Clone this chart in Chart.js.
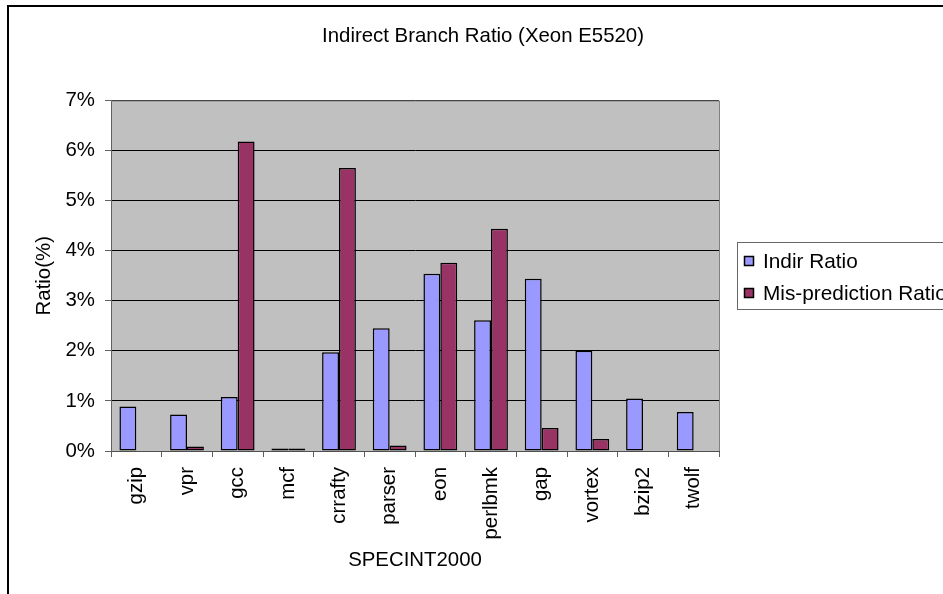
<!DOCTYPE html>
<html>
<head>
<meta charset="utf-8">
<script src="https://cdn.jsdelivr.net/npm/chart.js@4.4.1/dist/chart.umd.min.js"></script>
<style>
  html, body { margin: 0; padding: 0; background: #fff; }
  canvas { display: block; }
</style>
</head>
<body>
<canvas id="ratioChart" width="943" height="594"></canvas>
<script>
// Indirect branch ratio per SPECINT2000 benchmark (values in %)
const benchmarks = ['gzip', 'vpr', 'gcc', 'mcf', 'crrafty', 'parser', 'eon', 'perlbmk', 'gap', 'vortex', 'bzip2', 'twolf'];
const indirRatio = [0.89, 0.73, 1.08, 0.05, 1.97, 2.45, 3.54, 2.61, 3.44, 2.00, 1.05, 0.78];
const mispredRatio = [0, 0.09, 6.18, 0.05, 5.65, 0.11, 3.76, 4.44, 0.46, 0.24, 0, 0];
const yTicks = [0, 1, 2, 3, 4, 5, 6, 7];

const FONT = "'Liberation Sans', Arial, sans-serif";
const FS = 20.4;
Chart.defaults.font.family = FONT;
Chart.defaults.font.size = FS;
Chart.defaults.color = '#000';

// grey plot area, outer frame, plot border
const frame = {
  id: 'frame',
  beforeDraw(chart) {
    const { ctx, chartArea: a } = chart;
    ctx.save();
    ctx.fillStyle = '#C0C0C0';
    ctx.fillRect(a.left, a.top, a.right - a.left, a.bottom - a.top);
    ctx.strokeStyle = '#000';
    ctx.lineWidth = 2;
    ctx.strokeRect(8, 6, 1200, 1200);
    ctx.restore();
  },
  afterDatasetsDraw(chart) {
    const { ctx, chartArea: a } = chart;
    ctx.save();
    ctx.strokeStyle = '#808080';
    ctx.lineWidth = 1;
    ctx.beginPath();
    ctx.moveTo(a.left, a.top + 0.5);
    ctx.lineTo(a.right + 0.5, a.top + 0.5);
    ctx.lineTo(a.right + 0.5, a.bottom);
    ctx.stroke();
    ctx.restore();
  }
};

// Excel style boxed legend, partly cut by the right edge
const boxLegend = {
  id: 'boxLegend',
  afterDraw(chart) {
    const { ctx } = chart;
    ctx.save();
    ctx.strokeStyle = '#666';
    ctx.lineWidth = 1;
    ctx.strokeRect(737.5, 242.5, 300, 67);
    ctx.font = '20.8px ' + FONT;
    ctx.textBaseline = 'middle';
    ctx.textAlign = 'left';
    chart.data.datasets.forEach((ds, i) => {
      const y = 256 + i * 32;
      ctx.fillStyle = ds.backgroundColor;
      ctx.fillRect(744, y, 10, 10);
      ctx.strokeStyle = '#000';
      ctx.lineWidth = 1.5;
      ctx.strokeRect(744.5, y + 0.5, 9, 9);
      ctx.fillStyle = '#000';
      ctx.fillText(ds.label, 763, y + 6);
    });
    ctx.restore();
  }
};

new Chart(document.getElementById('ratioChart'), {
  type: 'bar',
  data: {
    labels: benchmarks,
    datasets: [
      {
        label: 'Indir Ratio',
        data: indirRatio,
        backgroundColor: '#9999FF',
        borderColor: '#000',
        borderWidth: 1.5,
        borderSkipped: false,
        categoryPercentage: 0.667,
        barPercentage: 1
      },
      {
        label: 'Mis-prediction Ratio',
        data: mispredRatio,
        backgroundColor: '#993366',
        borderColor: '#000',
        borderWidth: 1.5,
        borderSkipped: false,
        categoryPercentage: 0.667,
        barPercentage: 1
      }
    ]
  },
  options: {
    responsive: false,
    animation: false,
    devicePixelRatio: 1,
    layout: { padding: { left: 23, right: 0, top: 0, bottom: 21 } },
    plugins: {
      legend: { display: false },
      tooltip: { enabled: false },
      title: {
        display: true,
        text: 'Indirect Branch Ratio (Xeon E5520)',
        font: { size: FS, weight: 'normal' },
        color: '#000',
        padding: { top: 24, bottom: 52 }
      }
    },
    scales: {
      x: {
        ticks: { autoSkip: false, minRotation: 90, maxRotation: 90, padding: 10, font: { size: FS }, color: '#000' },
        grid: { offset: true, drawOnChartArea: false, drawTicks: true, tickLength: 6, color: '#606060' },
        border: { display: true, color: '#505050' },
        title: { display: true, text: 'SPECINT2000', font: { size: FS }, color: '#000', padding: { top: 0, bottom: 0 } },
        afterFit: s => { s.height = 122; }
      },
      y: {
        min: 0,
        max: 7,
        afterBuildTicks: s => { s.ticks = yTicks.map(v => ({ value: v })); },
        ticks: { padding: 10, font: { size: FS }, color: '#000', callback: v => v + '%' },
        grid: { color: '#000', tickColor: '#606060', tickLength: 6 },
        border: { display: true, color: '#606060' },
        title: { display: true, text: 'Ratio(%)', font: { size: FS }, color: '#000', padding: { top: 9, bottom: 0 } },
        afterFit: s => { s.width = 88; }
      },
      spacer: {
        type: 'linear',
        position: 'right',
        display: true,
        grid: { display: false },
        ticks: { display: false },
        border: { display: false },
        afterFit: s => { s.width = 224; }
      }
    }
  },
  plugins: [frame, boxLegend]
});
</script>
</body>
</html>
